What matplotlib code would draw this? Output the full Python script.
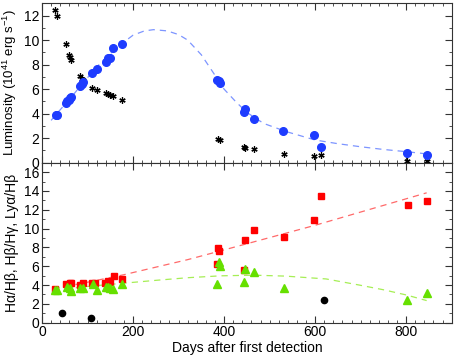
import matplotlib
matplotlib.use("Agg")
import matplotlib.pyplot as plt
from matplotlib.ticker import MultipleLocator

plt.rcParams['font.family'] = ['Liberation Sans', 'DejaVu Sans']
plt.rcParams['mathtext.fontset'] = 'custom'
plt.rcParams['mathtext.rm'] = 'Liberation Sans'
plt.rcParams['mathtext.it'] = 'Liberation Sans:italic'

# --- Top panel: luminosity ---
lum_days = [30, 33, 53, 56, 59, 62, 64, 84, 87, 90, 110.6, 120, 140, 144, 150, 157, 175,
            384, 388, 392, 443, 446.5, 465, 529, 596.5, 612.7, 801.5, 845.4]
lum_vals = [3.85, 3.9, 4.9, 5.0, 5.15, 5.3, 5.35, 6.26, 6.45, 6.59, 7.29, 7.67, 8.19, 8.57, 8.57, 9.35, 9.68,
            6.72, 6.64, 6.5, 4.15, 4.34, 3.58, 2.6, 2.25, 1.28, 0.81, 0.6]

ast_days = [28, 33, 53, 58.6, 61, 64.5, 84, 87.5, 90, 110.6, 120, 140, 144, 150, 157, 175,
            386, 390, 443, 447, 465, 531, 596.5, 612.7, 801.5, 845]
ast_vals = [12.47, 11.95, 9.65, 8.8, 8.62, 8.35, 7.05, 6.86, 6.72, 6.13, 5.91, 5.69, 5.64, 5.56, 5.42, 5.15,
            1.9, 1.85, 1.25, 1.17, 1.09, 0.68, 0.54, 0.6, 0.11, 0.1]

fit_days = [20, 30, 60, 90, 120, 150, 175, 200, 225, 245, 275, 300, 320, 350, 377, 400, 425, 450,
            487, 538, 600, 650, 700, 750, 800, 850]
fit_vals = [3.45, 3.9, 5.15, 6.5, 7.8, 8.9, 9.7, 10.4, 10.75, 10.85, 10.75, 10.45, 10.0, 8.8, 7.3, 6.0,
            5.0, 4.1, 3.2, 2.52, 1.85, 1.55, 1.3, 1.08, 0.9, 0.7]

# --- Bottom panel: line ratios ---
red_days = [29.4, 53.6, 62, 64.5, 84, 90, 110, 117, 139, 146, 150, 157.5, 176,
            384, 385.7, 389.5, 443, 446.5, 465, 530.7, 596.5, 612.7, 803, 845.4]
red_vals = [3.6, 4.07, 4.17, 4.24, 3.99, 4.24, 4.24, 4.24, 4.24, 4.45, 4.31, 4.95, 4.63,
            6.29, 7.95, 7.6, 5.58, 8.83, 9.85, 9.15, 10.88, 13.5, 12.54, 12.93]

grn_days = [29, 33, 55, 61, 64, 84, 90, 112, 120, 140, 146, 150, 157, 176,
            384, 389, 391, 443, 446.5, 465, 531, 801.5, 845]
grn_vals = [3.43, 3.46, 3.75, 3.7, 3.39, 3.64, 3.7, 4.07, 3.46, 3.78, 3.81, 3.7, 3.53, 4.13,
            4.1, 6.46, 6.0, 4.31, 5.69, 5.37, 3.68, 2.4, 3.11]

blk_days = [44.8, 108, 618.5]
blk_vals = [1.03, 0.46, 2.44]

red_fit_days = [25, 100, 180, 320, 392, 600, 845]
red_fit_vals = [3.6, 4.3, 5.1, 6.7, 7.63, 10.35, 13.8]

grn_fit_days = [25, 100, 180, 250, 320, 392, 465, 535, 624, 697, 750, 800, 845]
grn_fit_vals = [3.45, 3.85, 4.2, 4.5, 4.78, 4.98, 5.05, 4.95, 4.65, 4.0, 3.5, 2.95, 2.35]

fig = plt.figure(figsize=(4.54, 3.57), dpi=100)
L, R = 42 / 454, 451.7 / 454
ax1 = fig.add_axes([L, 1 - 162.7 / 357, R - L, (162.7 - 3.3) / 357])
ax2 = fig.add_axes([L, 1 - 322.7 / 357, R - L, (322.7 - 162.7) / 357])

ax1.plot(fit_days, fit_vals, ls=(0, (5, 4)), color='#7d95ff', lw=0.9)
ax1.plot(ast_days, ast_vals, ls='none', marker=(6, 2, 0), ms=4.5, mec='black', mew=0.9)
ax1.plot(lum_days, lum_vals, ls='none', marker='o', ms=5.5, mfc='#1e3cff', mec='#1e3cff')

ax2.plot(red_fit_days, red_fit_vals, ls=(0, (5, 4)), color='#ff6a6a', lw=0.9)
ax2.plot(grn_fit_days, grn_fit_vals, ls=(0, (5, 4)), color='#a6ee55', lw=0.9)
ax2.plot(red_days, red_vals, ls='none', marker='s', ms=4.3, mfc='#ff0000', mec='#ff0000')
ax2.plot(grn_days, grn_vals, ls='none', marker='^', ms=5.5, mfc='#66e000', mec='#66e000')
ax2.plot(blk_days, blk_vals, ls='none', marker='o', ms=4.5, mfc='black', mec='black')

for ax in (ax1, ax2):
    ax.set_xlim(0, 900)
    ax.xaxis.set_major_locator(MultipleLocator(200))
    ax.xaxis.set_minor_locator(MultipleLocator(20))
    ax.yaxis.set_major_locator(MultipleLocator(2))
    ax.yaxis.set_minor_locator(MultipleLocator(1))
    ax.tick_params(which='both', direction='in', top=True, right=True, labelsize=10,
                   color='#333333', pad=2)
    ax.tick_params(which='major', length=5, width=0.8)
    ax.tick_params(which='minor', length=2.5, width=0.6)
    for s in ax.spines.values():
        s.set_linewidth(0.8)
        s.set_color('#333333')

ax1.set_ylim(0, 13)
ax1.tick_params(labelbottom=False)
ax2.set_ylim(0, 17)

ax1.set_ylabel('Luminosity (10$^{41}$ erg s$^{-1}$)', fontsize=9.5)
ax2.set_ylabel('H\u03b1/H\u03b2, H\u03b2/H\u03b3, Ly\u03b1/H\u03b2', fontsize=10)
ax2.set_xlabel('Days after first detection', fontsize=10, labelpad=1)
ax1.yaxis.set_label_coords(-0.057, 0.5)
ax2.yaxis.set_label_coords(-0.057, 0.5)

fig.savefig('out.png', dpi=100)
